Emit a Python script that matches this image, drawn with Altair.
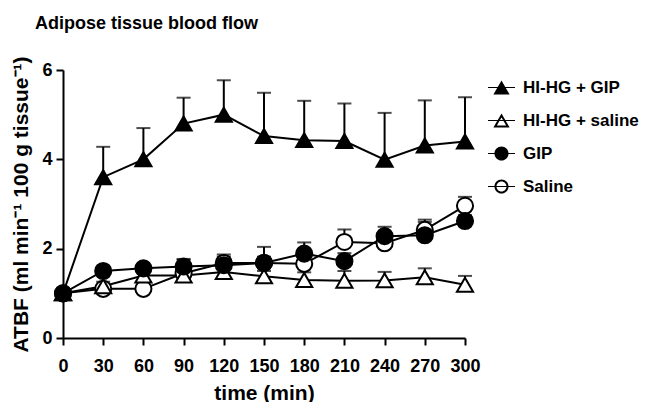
import altair as alt
import pandas as pd

times = [0, 30, 60, 90, 120, 150, 180, 210, 240, 270, 300]
series_names = ["HI-HG + GIP", "HI-HG + saline", "GIP", "Saline"]

hg_gip_mean = [1.0, 3.6, 4.0, 4.8, 5.0, 4.52, 4.43, 4.41, 3.99, 4.31, 4.4]
hg_gip_upper = [1.0, 4.28, 4.70, 5.38, 5.77, 5.49, 5.31, 5.25, 5.04, 5.32, 5.39]

hg_sal_mean = [1.0, 1.16, 1.4, 1.4, 1.48, 1.38, 1.3, 1.28, 1.29, 1.36, 1.19]
hg_sal_upper = [1.0, 1.26, 1.47, 1.5, 1.6, 1.5, 1.47, 1.5, 1.48, 1.56, 1.39]

gip_mean = [1.0, 1.5, 1.56, 1.6, 1.63, 1.68, 1.89, 1.72, 2.28, 2.3, 2.62]
gip_upper = [1.0, 1.58, 1.62, 1.77, 1.82, 2.04, 2.14, 1.9, 2.49, 2.6, 2.75]

sal_mean = [1.0, 1.1, 1.1, 1.45, 1.68, 1.68, 1.66, 2.15, 2.12, 2.42, 2.96]
sal_upper = [1.0, 1.15, 1.15, 1.75, 1.87, 1.82, 1.75, 2.43, 2.3, 2.65, 3.16]

# draw order: Saline first, HI-HG + GIP last
draw = [
    ("Saline", sal_mean, sal_upper),
    ("HI-HG + saline", hg_sal_mean, hg_sal_upper),
    ("GIP", gip_mean, gip_upper),
    ("HI-HG + GIP", hg_gip_mean, hg_gip_upper),
]
rows = []
for name, means, uppers in draw:
    for t, m, u in zip(times, means, uppers):
        rows.append({"series": name, "t": t, "mean": m, "upper": u})
df = pd.DataFrame(rows)

FONT = "Liberation Sans, Arial, Helvetica"

x = alt.X("t:Q", scale=alt.Scale(domain=[0, 300], nice=False, zero=False),
          axis=alt.Axis(values=times, title="time (min)", labelPadding=12, titleY=44))
y = alt.Y("mean:Q", scale=alt.Scale(domain=[0, 6], nice=False),
          axis=alt.Axis(values=[0, 2, 4, 6], title="ATBF (ml min\u207b\u00b9 100 g tissue\u207b\u00b9)",
                        titlePadding=10, labelPadding=4))

base = alt.Chart(df)

err = base.mark_rule(color="black", strokeWidth=2).encode(x=x, y=y, y2="upper:Q")
caps = base.mark_tick(orient="horizontal", color="black", size=14, thickness=2).encode(
    x=x, y=alt.Y("upper:Q"))
lines = base.mark_line(color="black", strokeWidth=2).encode(
    x=x, y=y, detail="series:N", order="t:Q")

points = base.mark_point(stroke="black", strokeWidth=2, opacity=1).encode(
    x=x, y=y,
    shape=alt.Shape("series:N", legend=None,
                    scale=alt.Scale(domain=series_names,
                                    range=["triangle-up", "triangle-up", "circle", "circle"])),
    fill=alt.Fill("series:N", legend=None,
                  scale=alt.Scale(domain=series_names,
                                  range=["black", "white", "black", "white"])),
    size=alt.Size("series:N", legend=None,
                  scale=alt.Scale(domain=series_names, range=[260, 260, 210, 210])),
)

# legend glyphs drawn as filled outlines: line segment + marker (rings for open markers)
seg = "M-1,-0.04H1V0.04H-1Z"
tri_outer = "M0,-0.52L0.6,0.52L-0.6,0.52Z"
tri_inner = "M0,-0.224L-0.344,0.372L0.344,0.372Z"
circ_outer = "M0.52,0A0.52,0.52 0 1,1 -0.52,0A0.52,0.52 0 1,1 0.52,0Z"
circ_inner = "M0.37,0A0.37,0.37 0 1,0 -0.37,0A0.37,0.37 0 1,0 0.37,0Z"
legend_paths = [
    seg + tri_outer,
    seg + tri_outer + tri_inner,
    seg + circ_outer,
    seg + circ_outer + circ_inner,
]

legend_layer = base.transform_filter("datum.t < 0").mark_point(
    filled=True, color="black", opacity=1).encode(
    x=x, y=y,
    shape=alt.Shape("series:N",
                    scale=alt.Scale(domain=series_names, range=legend_paths),
                    legend=alt.Legend(title=None, orient="none", legendX=425, legendY=4,
                                      symbolSize=729, symbolStrokeWidth=0,
                                      symbolOpacity=1, symbolFillColor="black",
                                      labelFont=FONT, labelFontSize=17,
                                      labelFontWeight="bold", labelColor="black",
                                      labelOffset=8, rowPadding=11, padding=0,
                                      labelLimit=300)),
)

chart = alt.layer(err, caps, lines, points, legend_layer).resolve_scale(
    shape="independent"
).properties(
    width=402, height=268,
    padding={"left": 55, "top": 62, "right": 175, "bottom": 64},
    autosize=alt.AutoSizeParams(type="none"),
    title=alt.TitleParams("Adipose tissue blood flow", anchor="start", frame="group",
                          dx=-28, offset=23,
                          font=FONT, fontSize=18, fontWeight="bold", color="black"),
).configure_view(stroke=None).configure_axis(
    grid=False, domainColor="black", domainWidth=2, tickColor="black", tickWidth=2,
    tickSize=7, labelFont=FONT, labelFontSize=18, labelFontWeight="bold",
    labelColor="black", titleFont=FONT, titleFontSize=21,
    titleFontWeight="bold", titleColor="black", labelOverlap=False, labelFlush=False,
)

chart.save("out.html", embed_options={"renderer": "svg", "actions": False})
